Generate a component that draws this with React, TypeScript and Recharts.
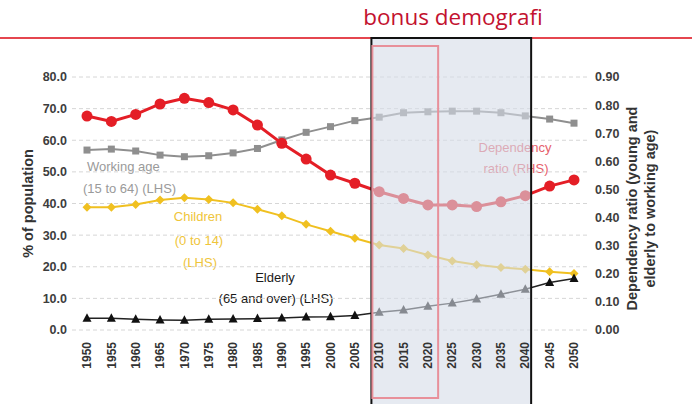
import React from 'react';
import { LineChart, Line, XAxis, YAxis, CartesianGrid, ReferenceArea } from 'recharts';

const years = [1950, 1955, 1960, 1965, 1970, 1975, 1980, 1985, 1990, 1995, 2000, 2005, 2010, 2015, 2020, 2025, 2030, 2035, 2040, 2045, 2050];
const workingAge = [56.9, 57.2, 56.6, 55.3, 54.8, 55.1, 56.0, 57.4, 60.1, 62.5, 64.3, 66.2, 67.3, 68.7, 69.0, 69.2, 69.2, 68.7, 67.7, 66.7, 65.4];
const children = [38.8, 38.8, 39.7, 41.1, 41.8, 41.3, 40.2, 38.2, 36.1, 33.4, 31.2, 29.0, 26.9, 25.8, 23.7, 21.8, 20.6, 19.8, 19.2, 18.4, 17.9];
const elderly = [3.7, 3.7, 3.4, 3.2, 3.1, 3.4, 3.5, 3.6, 3.8, 4.1, 4.2, 4.6, 5.6, 6.3, 7.5, 8.5, 9.8, 11.3, 12.9, 15.0, 16.3];
const dependencyRatio = [0.761, 0.742, 0.767, 0.804, 0.824, 0.809, 0.783, 0.729, 0.664, 0.608, 0.551, 0.522, 0.492, 0.468, 0.445, 0.445, 0.439, 0.456, 0.478, 0.512, 0.534];

const leftTicks = [0, 10, 20, 30, 40, 50, 60, 70, 80];
const rightTicks = [0, 0.1, 0.2, 0.3, 0.4, 0.5, 0.6, 0.7, 0.8, 0.9];

// demographic bonus window, and the "now" window inside it
const bonusWindow = [2008.4, 2041.2];
const currentWindow = [2008.6, 2022.1];

const data = years.map((year, i) => ({
  year,
  working: workingAge[i],
  children: children[i],
  elderly: elderly[i],
  ratio: dependencyRatio[i],
}));

const FONT = "'Liberation Sans Narrow', 'Liberation Sans', Arial, sans-serif";
const LABEL_FONT = "'Liberation Sans', Arial, sans-serif";

const CircleDot = (props: any) => {
  const { cx, cy, key } = props;
  if (cx == null || cy == null) return null;
  return <circle key={key} cx={cx} cy={cy} r={5.5} fill="#e41e26" />;
};

const SquareDot = (props: any) => {
  const { cx, cy, key } = props;
  if (cx == null || cy == null) return null;
  return <rect key={key} x={cx - 3.5} y={cy - 3.5} width={7} height={7} fill="#8f8f8f" />;
};

const DiamondDot = (props: any) => {
  const { cx, cy, key } = props;
  if (cx == null || cy == null) return null;
  return <path key={key} d={`M${cx},${cy - 4.5}L${cx + 4.5},${cy}L${cx},${cy + 4.5}L${cx - 4.5},${cy}Z`} fill="#f0c020" />;
};

const TriangleDot = (props: any) => {
  const { cx, cy, key } = props;
  if (cx == null || cy == null) return null;
  return <path key={key} d={`M${cx},${cy - 5}L${cx + 4.5},${cy + 3.5}L${cx - 4.5},${cy + 3.5}Z`} fill="#111" />;
};

const YearTick = ({ x, y, payload }: any) => {
  const ty = y + 12;
  return (
    <text
      x={x}
      y={ty}
      transform={`rotate(-90, ${x}, ${ty})`}
      textAnchor="end"
      dy="0.35em"
      fontSize={12}
      fontWeight="bold"
      fontFamily={LABEL_FONT}
      fill="#333"
    >
      {payload.value}
    </text>
  );
};

const LeftTitle = ({ viewBox }: any) => {
  const cx = 28;
  const cy = viewBox.y + viewBox.height / 2;
  return (
    <text x={cx} y={cy} transform={`rotate(-90, ${cx}, ${cy})`} textAnchor="middle" dy="0.35em"
      fontSize={14.5} fontWeight="bold" fontFamily={LABEL_FONT} fill="#333">
      % of population
    </text>
  );
};

const RightTitle = ({ viewBox }: any) => {
  const cy = viewBox.y + viewBox.height / 2 + 5;
  return (
    <g fontSize={14.5} fontWeight="bold" fontFamily={LABEL_FONT} fill="#333">
      <text x={632} y={cy} transform={`rotate(-90, 632, ${cy})`} textAnchor="middle" dy="0.35em">
        Dependency ratio (young and
      </text>
      <text x={650} y={cy} transform={`rotate(-90, 650, ${cy})`} textAnchor="middle" dy="0.35em">
        elderly to working age)
      </text>
    </g>
  );
};

const App = () => {
  return (
    <div style={{ position: 'fixed', left: 0, top: 0, width: 692, height: 404, background: '#fff' }}>
      <svg width={692} height={404} style={{ position: 'absolute', left: 0, top: 0 }}>
        <line x1={0} y1={38} x2={692} y2={38} stroke="#e5464f" strokeWidth={2} />
        <text x={453} y={25} textAnchor="middle" fontSize={22.5} fontFamily="'Open Sans', sans-serif" fill="#c3122f">
          bonus demografi
        </text>
        <g fontSize={13} fontFamily={LABEL_FONT}>
          <text x={87} y={171} fill="#9a9a9a">Working age</text>
          <text x={83} y={193} fill="#9a9a9a">(15 to 64) (LHS)</text>
          <text x={198} y={221} textAnchor="middle" fill="#efc53a">Children</text>
          <text x={199} y={245} textAnchor="middle" fill="#efc53a">(0 to 14)</text>
          <text x={200} y={267} textAnchor="middle" fill="#efc53a">(LHS)</text>
          <text x={275} y={282} textAnchor="middle" fill="#1a1a1a">Elderly</text>
          <text x={276} y={303} textAnchor="middle" fill="#1a1a1a">(65 and over) (LHS)</text>
          <text x={515} y={152} textAnchor="middle" fill="#e6606c">Dependency</text>
          <text x={516} y={173} textAnchor="middle" fill="#e6606c">ratio (RHS)</text>
        </g>
      </svg>
      <div style={{ position: 'absolute', left: 0, top: 0 }}>
        <LineChart width={692} height={404} data={data} margin={{ top: 77, right: 0, bottom: 0, left: 0 }}>
          <CartesianGrid yAxisId="left" vertical={false} strokeDasharray="4 3" stroke="#d6d6d6" />
          <XAxis
            dataKey="year"
            type="number"
            domain={[1950, 2050]}
            ticks={years}
            interval={0}
            padding={{ left: 15, right: 16 }}
            axisLine={false}
            tickLine={false}
            tickSize={0}
            tickMargin={0}
            height={74}
            tick={<YearTick />}
          />
          <YAxis
            yAxisId="left"
            width={72}
            domain={[0, 80]}
            ticks={leftTicks}
            tickFormatter={(v: number) => v.toFixed(1)}
            axisLine={false}
            tickLine={false}
            tickSize={3}
            tickMargin={2}
            tick={{ fontSize: 12.5, fontWeight: 'bold', fill: '#3d3d3d', fontFamily: FONT }}
            label={<LeftTitle />}
          />
          <YAxis
            yAxisId="right"
            orientation="right"
            width={102}
            domain={[0, 0.9]}
            ticks={rightTicks}
            tickFormatter={(v: number) => v.toFixed(2)}
            axisLine={false}
            tickLine={false}
            tickSize={3}
            tickMargin={2}
            tick={{ fontSize: 12.5, fontWeight: 'bold', fill: '#3d3d3d', fontFamily: FONT }}
            label={<RightTitle />}
          />
          <Line yAxisId="left" dataKey="working" stroke="#8f8f8f" strokeWidth={2} dot={SquareDot} isAnimationActive={false} />
          <Line yAxisId="left" dataKey="children" stroke="#f0c020" strokeWidth={2} dot={DiamondDot} isAnimationActive={false} />
          <Line yAxisId="left" dataKey="elderly" stroke="#222" strokeWidth={1.5} dot={TriangleDot} isAnimationActive={false} />
          <Line yAxisId="right" dataKey="ratio" stroke="#e41e26" strokeWidth={3} dot={CircleDot} isAnimationActive={false} />
          <ReferenceArea
            yAxisId="left"
            x1={bonusWindow[0]}
            x2={bonusWindow[1]}
            y1={-26}
            y2={92.3}
            ifOverflow="visible"
            fill="#d5dce8"
            fillOpacity={0.6}
            stroke="#111"
            strokeWidth={2}
            zIndex={600}
          />
          <ReferenceArea
            yAxisId="left"
            x1={currentWindow[0]}
            x2={currentWindow[1]}
            y1={-21.5}
            y2={89.8}
            ifOverflow="visible"
            fill="none"
            fillOpacity={0}
            stroke="#e8909a"
            strokeWidth={2}
            zIndex={650}
          />
        </LineChart>
      </div>
    </div>
  );
};

export default App;
